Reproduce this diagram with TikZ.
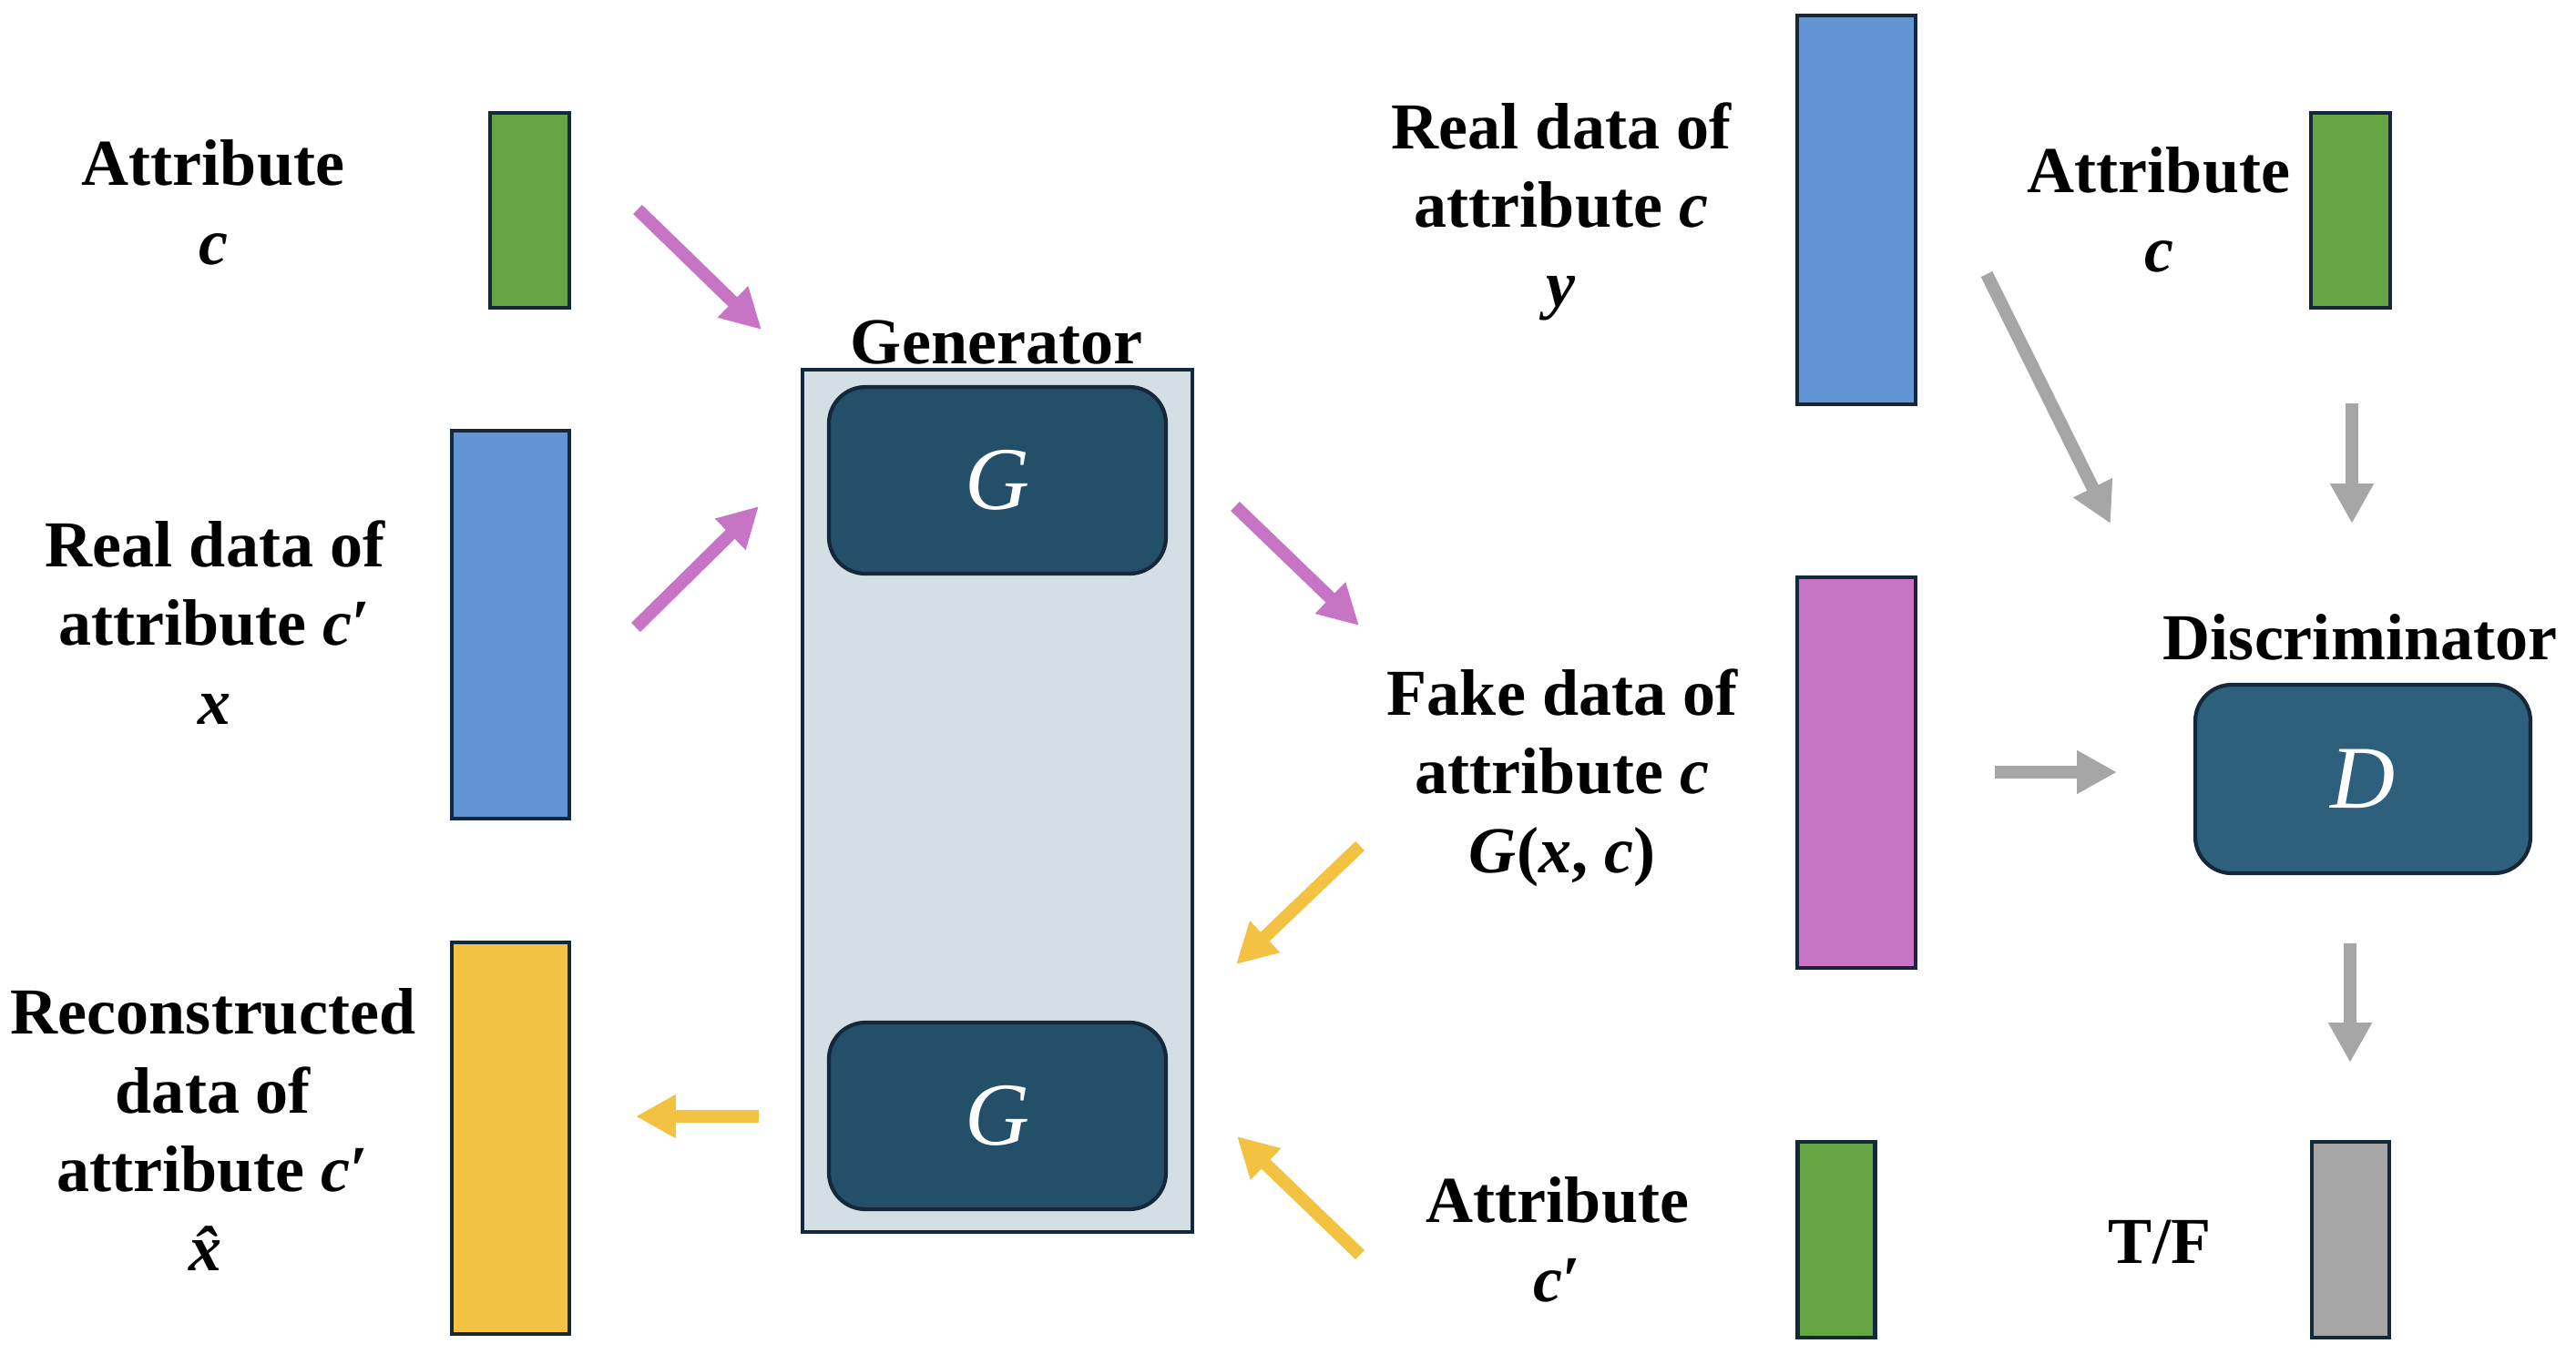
\documentclass[tikz,border=0pt]{standalone}
\usepackage{fontspec}
\setmainfont{Liberation Serif}
\usetikzlibrary{arrows.meta}
\definecolor{attrgreen}{HTML}{66A543}
\definecolor{realblue}{HTML}{6395D4}
\definecolor{recyellow}{HTML}{F4C242}
\definecolor{fakepink}{HTML}{C874C5}
\definecolor{tfgray}{HTML}{A6A6A6}
\definecolor{genfill}{HTML}{D3DFE5}
\definecolor{gdark}{HTML}{234F68}
\definecolor{ddark}{HTML}{2E5F7D}
\definecolor{edge}{HTML}{14283A}
\begin{document}
\begin{tikzpicture}[box/.style={draw=edge,line width=1.2pt,inner sep=0pt,outer sep=0pt},
  net/.style={box,rounded corners=0.4cm,minimum width=3.7cm,minimum height=2.05cm,text=white,font=\fontsize{28}{30}\selectfont\itshape},
  lbl/.style={align=center,anchor=base,font=\fontsize{20.5}{24.6}\selectfont\bfseries},
  flow/.style={line width=4pt,-{Triangle[length=12.5pt,width=12.8pt]}}]
\useasboundingbox (0,0) rectangle (28.28,-14.86);
% generator side
\node[box,fill=genfill,minimum width=4.28cm,minimum height=9.47cm] (gen) at (10.95,-8.795) {};
\node[net,fill=gdark] (gtop) at (10.95,-5.275) {G};
\node[net,fill=gdark] (gbot) at (10.95,-12.255) {G};
\node[lbl] (genlbl) at (10.94,-3.99) {Generator};
\node[box,fill=attrgreen,minimum width=0.87cm,minimum height=2.14cm] (attrL) at (5.815,-2.31) {};
\node[box,fill=realblue,minimum width=1.29cm,minimum height=4.26cm] (realL) at (5.605,-6.86) {};
\node[box,fill=recyellow,minimum width=1.29cm,minimum height=4.3cm] (recL) at (5.605,-12.5) {};
% labels sit on their last line
\node[lbl] (attrLtxt) at (2.34,-2.9) {Attribute\\\textit{c}};
\node[lbl] (realLtxt) at (2.36,-7.95) {Real data of\\attribute \textit{c}′\\\textit{x}};
\node[lbl] (recLtxt) at (2.34,-13.95) {Reconstructed\\data of\\attribute \textit{c}′\\\textit{\^{x}}};
% discriminator side
\node[box,fill=realblue,minimum width=1.3cm,minimum height=4.27cm] (realR) at (20.38,-2.305) {};
\node[box,fill=fakepink,minimum width=1.3cm,minimum height=4.29cm] (fakeR) at (20.38,-8.485) {};
\node[box,fill=attrgreen,minimum width=0.85cm,minimum height=2.15cm] (attrM) at (20.16,-13.615) {};
\node[box,fill=attrgreen,minimum width=0.87cm,minimum height=2.14cm] (attrR) at (25.805,-2.31) {};
\node[box,fill=tfgray,minimum width=0.85cm,minimum height=2.15cm] (tf) at (25.805,-13.615) {};
\node[net,fill=ddark,minimum width=3.68cm,minimum height=2.07cm] (dis) at (25.94,-8.555) {D};
\node[lbl] (dislbl) at (25.91,-7.24) {Discriminator};
\node[lbl] (realRtxt) at (17.14,-3.36) {Real data of\\attribute \textit{c}\\\textit{y}};
\node[lbl] (fakeRtxt) at (17.15,-9.58) {Fake data of\\attribute \textit{c}\\\textit{G}(\textit{x}, \textit{c})};
\node[lbl] (attrMtxt) at (17.1,-14.29) {Attribute\\\textit{c}′};
\node[lbl] (attrRtxt) at (23.7,-2.98) {Attribute\\\textit{c}};
\node[lbl] (tftxt) at (23.71,-13.87) {T/F};
% arrow ends
\coordinate (a1) at (7.0,-2.3);    \coordinate (b1) at (8.36,-3.62);
\coordinate (a2) at (6.98,-6.89);  \coordinate (b2) at (8.33,-5.56);
\coordinate (a3) at (13.56,-5.56); \coordinate (b3) at (14.92,-6.87);
\coordinate (a4) at (14.93,-9.29); \coordinate (b4) at (13.57,-10.59);
\coordinate (a5) at (14.93,-13.78);\coordinate (b5) at (13.58,-12.48);
\coordinate (a6) at (8.33,-12.26); \coordinate (b6) at (6.98,-12.26);
\coordinate (a7) at (21.81,-3.01); \coordinate (b7) at (23.17,-5.75);
\coordinate (a8) at (25.82,-4.43); \coordinate (b8) at (25.82,-5.75);
\coordinate (a9) at (21.9,-8.48);  \coordinate (b9) at (23.24,-8.48);
\coordinate (a10) at (25.8,-10.36);\coordinate (b10) at (25.8,-11.67);
\draw[flow,fakepink] (a1) -- (b1);
\draw[flow,fakepink] (a2) -- (b2);
\draw[flow,fakepink] (a3) -- (b3);
\draw[flow,recyellow] (a4) -- (b4);
\draw[flow,recyellow] (a5) -- (b5);
\draw[flow,recyellow] (a6) -- (b6);
\draw[flow,tfgray] (a7) -- (b7);
\draw[flow,tfgray] (a8) -- (b8);
\draw[flow,tfgray] (a9) -- (b9);
\draw[flow,tfgray] (a10) -- (b10);
\end{tikzpicture}
\end{document}
